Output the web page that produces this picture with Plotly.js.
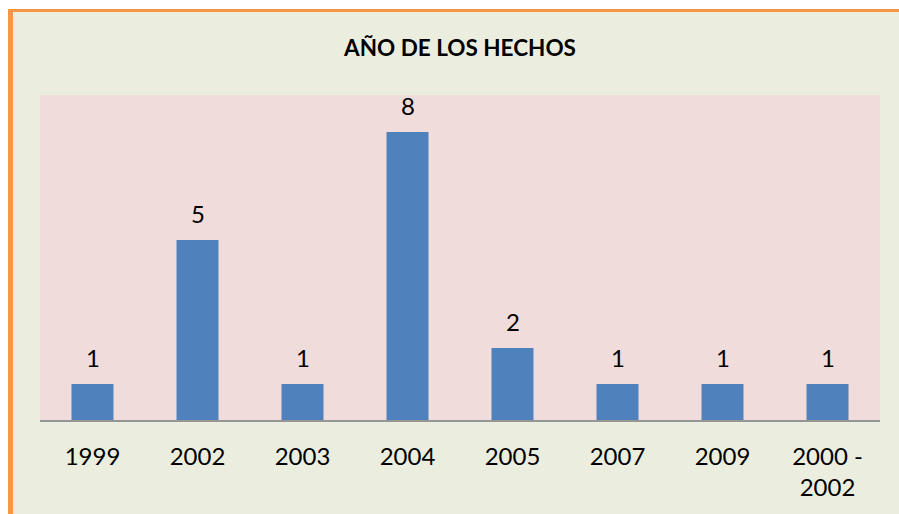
<!DOCTYPE html>
<html>
<head>
<meta charset="utf-8">
<script src="https://cdn.plot.ly/plotly-3.0.1.min.js"></script>
<style>
html,body{margin:0;padding:0;background:#ffffff;width:899px;height:514px;overflow:hidden;}
#chart{position:absolute;left:8px;top:9px;width:886px;height:502px;border-left:5px solid #F79646;border-top:3px solid #F79646;}
</style>
</head>
<body>
<div id="chart"></div>
<script>
const categories = ["1999", "2002", "2003", "2004", "2005", "2007", "2009", "2000 -<br>2002"];
const values = [1, 5, 1, 8, 2, 1, 1, 1];
const titleText = "AÑO DE LOS HECHOS";

const FONT = "Lato, 'Open Sans', sans-serif";

const trace = {
  type: "bar",
  x: categories,
  y: values,
  marker: {color: "#4F81BD"},
  hoverinfo: "skip"
};

const annotations = categories.map((c, i) => ({
  x: i,
  y: values[i],
  xref: "x",
  yref: "y",
  text: String(values[i]),
  showarrow: false,
  yanchor: "bottom",
  yshift: 10,
  font: {family: FONT, size: 24, color: "#000000"}
}));

const layout = {
  width: 886,
  height: 502,
  margin: {l: 27, r: 19, t: 83, b: 94},
  paper_bgcolor: "#EBEEDE",
  plot_bgcolor: "#F0DCDB",
  showlegend: false,
  bargap: 0.6,
  title: {
    text: "<b>" + titleText + "</b>",
    font: {family: FONT, size: 22.5, color: "#000000"},
    x: 0.5, xref: "paper",
    y: 1 - 36 / 502, yref: "container", yanchor: "middle"
  },
  xaxis: {
    type: "category",
    range: [-0.5, 7.5],
    showline: true,
    linecolor: "#969696",
    linewidth: 2,
    ticks: "outside",
    ticklen: 0,
    tickcolor: "rgba(0,0,0,0)",
    ticklabelstandoff: 14,
    tickfont: {family: FONT, size: 24, color: "#000000"},
    showgrid: false,
    zeroline: false,
    fixedrange: true
  },
  yaxis: {
    range: [0, 9.03],
    showticklabels: false,
    showgrid: false,
    zeroline: false,
    showline: false,
    ticks: "",
    fixedrange: true
  },
  annotations: annotations
};

Plotly.newPlot("chart", [trace], layout, {displayModeBar: false, staticPlot: true});
</script>
</body>
</html>
